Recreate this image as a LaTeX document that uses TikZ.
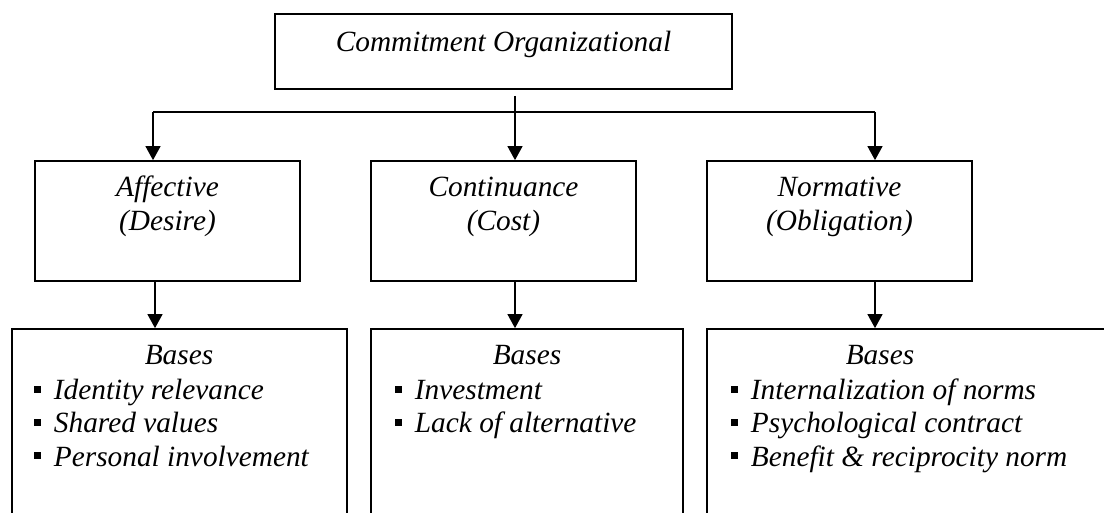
\documentclass[tikz,border=0pt]{standalone}
\usepackage{fontspec}
\setmainfont{Liberation Serif}
\usetikzlibrary{arrows.meta}
\newcommand\mybul{\raisebox{5.4pt}{\rule{5.25pt}{5.25pt}}\hspace{9.5pt}}
\begin{document}
\begin{tikzpicture}[x=0.75pt,y=-0.75pt,
  box/.style={draw, line width=1.2pt, inner sep=0pt, rectangle},
  txt/.style={font=\fontsize{22}{26}\selectfont\itshape, inner sep=0pt, anchor=base},
  item/.style={font=\fontsize{22}{26}\selectfont\itshape, inner sep=0pt, anchor=base west},
  plainline/.style={line width=1.6pt},
  arr/.style={line width=1.6pt, -{Triangle[width=11pt,length=10.5pt]}}]
\useasboundingbox (0,0) rectangle (1104,513);
\clip (0,0) rectangle (1104,513);
\fill[white] (0,0) rectangle (1104,513);
% boxes
\node[box, minimum width=342.75pt, minimum height=56.25pt] (top) at (503.5,51.5) {};
\node[box, minimum width=198.75pt, minimum height=90pt] (aff) at (167.5,221) {};
\node[box, minimum width=198.75pt, minimum height=90pt] (cont) at (503.5,221) {};
\node[box, minimum width=198.75pt, minimum height=90pt] (norm) at (839.5,221) {};
\node[box, minimum width=251.25pt, minimum height=158.25pt] (baff) at (179.5,434.5) {};
\node[box, minimum width=234pt, minimum height=158.25pt] (bcont) at (527,434.5) {};
\node[box, minimum width=317.25pt, minimum height=158.25pt] (bnorm) at (918.5,434.5) {};
% texts
\node[txt] (ttop) at (503.5,52) {Commitment Organizational};
\node[txt] (taff1) at (167.5,197) {Affective};
\node[txt] (taff2) at (167.5,231) {(Desire)};
\node[txt] (tcont1) at (503.5,197) {Continuance};
\node[txt] (tcont2) at (503.5,231) {(Cost)};
\node[txt] (tnorm1) at (839.5,197) {Normative};
\node[txt] (tnorm2) at (839.5,231) {(Obligation)};
\node[txt] (baseaff) at (179,365) {Bases};
\node[item] (ia1) at (34,400) {\mybul Identity relevance};
\node[item] (ia2) at (34,433) {\mybul Shared values};
\node[item] (ia3) at (34,466) {\mybul Personal involvement};
\node[txt] (basecont) at (527,365) {Bases};
\node[item] (ic1) at (395,400) {\mybul Investment};
\node[item] (ic2) at (395,433) {\mybul Lack of alternative};
\node[txt] (basenorm) at (880,365) {Bases};
\node[item] (in1) at (731,400) {\mybul Internalization of norms};
\node[item] (in2) at (731,433) {\mybul Psychological contract};
\node[item] (in3) at (731,466) {\mybul Benefit \& reciprocity norm};
% connectors
\coordinate (stub) at (515,96);
\coordinate (jl) at (153,112);
\coordinate (jr) at (875,112);
\coordinate (la) at (155,281);
\draw[plainline] (jl) -- (jr);
\draw[arr] (stub) -- (cont.north -| stub);
\draw[arr] (jl) -- (aff.north -| jl);
\draw[arr] (jr) -- (norm.north -| jr);
\draw[arr] (la) -- (baff.north -| la);
\draw[arr] (cont.south -| stub) -- (bcont.north -| stub);
\draw[arr] (norm.south -| jr) -- (bnorm.north -| jr);
\end{tikzpicture}
\end{document}
